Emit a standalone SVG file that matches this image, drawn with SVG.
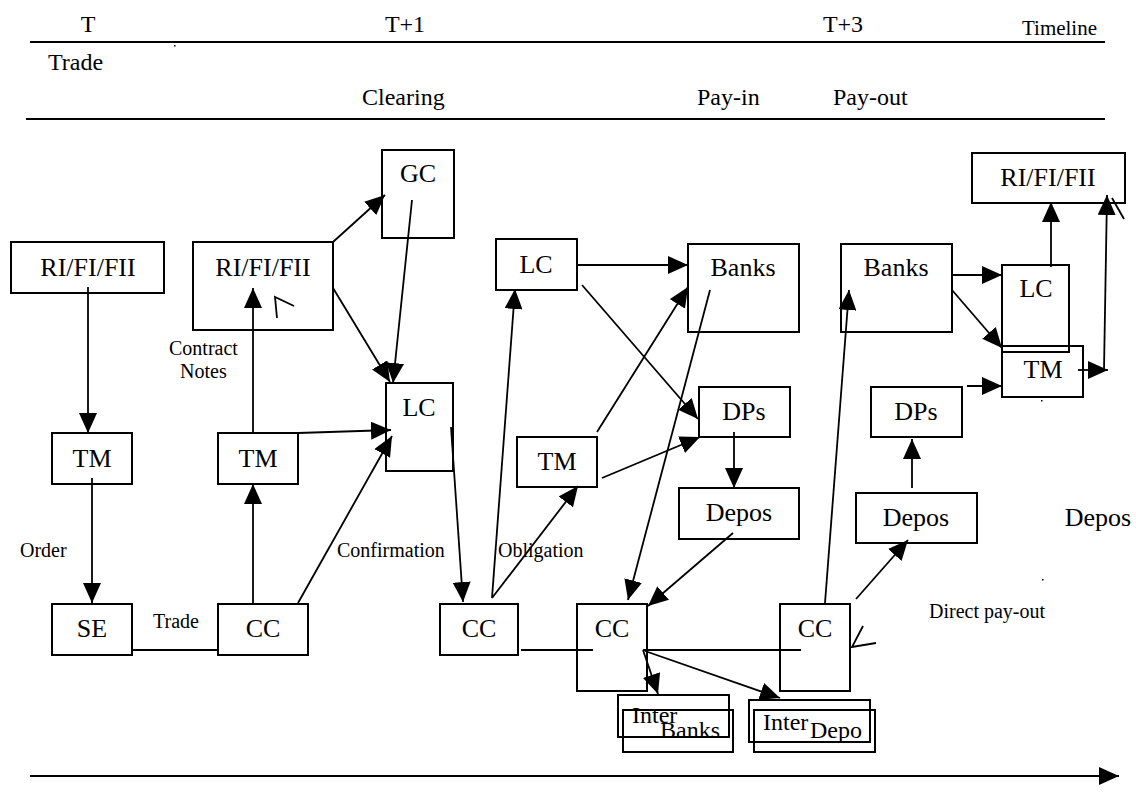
<svg xmlns="http://www.w3.org/2000/svg" width="1136" height="792" viewBox="0 0 1136 792">
<style>
.box{fill:#fff;stroke:#000;stroke-width:2}
.ob{fill:none;stroke:#000;stroke-width:2}
.nt{font-family:"Liberation Serif","Times New Roman",serif;font-size:26px;text-anchor:middle;fill:#000}
.hd{font-family:"Liberation Serif","Times New Roman",serif;font-size:24px;fill:#000}
.lb{font-family:"Liberation Serif","Times New Roman",serif;font-size:20px;fill:#000}
.it{font-family:"Liberation Serif","Times New Roman",serif;font-size:24px;fill:#000}
.c{stroke:#000;stroke-width:1.8;fill:none}
.a{stroke:#000;stroke-width:1.8;fill:none;marker-end:url(#ah)}
.hl{stroke:#000;stroke-width:2.2;fill:none}
</style>
<defs>
<marker id="ah" markerUnits="userSpaceOnUse" markerWidth="20" markerHeight="18" viewBox="0 0 20 18" refX="20" refY="9" orient="auto">
<path d="M0,0 L20,9 L0,18 z" fill="#000"/>
</marker>
</defs>
<rect width="1136" height="792" fill="#fff"/>
<g id="header">
<text class="hd" x="88" y="32" text-anchor="middle">T</text>
<text class="hd" x="405" y="32" text-anchor="middle">T+1</text>
<text class="hd" x="843" y="32" text-anchor="middle">T+3</text>
<text class="lb" x="1022" y="35" font-size="17" textLength="75" lengthAdjust="spacingAndGlyphs">Timeline</text>
<line class="hl" x1="30" y1="42" x2="1105" y2="42"/>
<rect x="174" y="45" width="1.5" height="1.5" fill="#000"/>
<text class="hd" x="48" y="70">Trade</text>
<text class="hd" x="362" y="105">Clearing</text>
<text class="hd" x="697" y="105">Pay-in</text>
<text class="hd" x="833" y="105">Pay-out</text>
<line class="hl" x1="26" y1="119" x2="1105" y2="119"/>
</g>
<g id="labels">
<text class="lb" x="169" y="355">Contract</text>
<text class="lb" x="180" y="378">Notes</text>
<text class="lb" x="20" y="557">Order</text>
<text class="lb" x="153" y="628">Trade</text>
<text class="lb" x="337" y="557">Confirmation</text>
<text class="lb" x="498" y="557">Obligation</text>
<text class="lb" x="929" y="618">Direct pay-out</text>
<text class="nt" x="1098" y="526">Depos</text>
</g>
<g id="ri1"><rect class="box" x="11" y="242" width="153" height="51"/><text class="nt" x="88" y="276">RI/FI/FII</text></g>
<g id="tm1"><rect class="box" x="52" y="433" width="80" height="51"/><text class="nt" x="92" y="467">TM</text></g>
<g id="se"><rect class="box" x="52" y="604" width="80" height="51"/><text class="nt" x="92" y="637">SE</text></g>
<g id="ri2"><rect class="box" x="193" y="242" width="140" height="88"/><text class="nt" x="263" y="276">RI/FI/FII</text></g>
<g id="tm2"><rect class="box" x="218" y="433" width="80" height="51"/><text class="nt" x="258" y="467">TM</text></g>
<g id="cc1"><rect class="box" x="218" y="604" width="90" height="51"/><text class="nt" x="263" y="637">CC</text></g>
<g id="gc"><rect class="box" x="382" y="150" width="72" height="88"/><text class="nt" x="418" y="182">GC</text></g>
<g id="lc1"><rect class="box" x="386" y="383" width="67" height="88"/><text class="nt" x="419" y="416">LC</text></g>
<g id="ccc"><rect class="box" x="440" y="604" width="78" height="51"/><text class="nt" x="479" y="637">CC</text></g>
<g id="lc2"><rect class="box" x="496" y="239" width="81" height="51"/><text class="nt" x="536" y="273">LC</text></g>
<g id="tm3"><rect class="box" x="517" y="437" width="80" height="50"/><text class="nt" x="557" y="470">TM</text></g>
<g id="banks1"><rect class="box" x="688" y="244" width="111" height="88"/><text class="nt" x="743" y="276">Banks</text></g>
<g id="dps1"><rect class="box" x="699" y="387" width="91" height="50"/><text class="nt" x="744" y="420">DPs</text></g>
<g id="depos1"><rect class="box" x="679" y="488" width="120" height="51"/><text class="nt" x="739" y="521">Depos</text></g>
<g id="cc2"><rect class="box" x="577" y="604" width="70" height="87"/><text class="nt" x="612" y="637">CC</text></g>
<g id="cc3"><rect class="box" x="780" y="604" width="70" height="87"/><text class="nt" x="815" y="637">CC</text></g>
<g id="interbanks"><rect class="ob" x="618" y="695" width="111" height="42"/><rect class="ob" x="623" y="710" width="110" height="42"/><text class="it" x="632" y="723">Inter</text><text class="it" x="660" y="738">Banks</text></g>
<g id="interdepo"><rect class="ob" x="749" y="700" width="121" height="42"/><rect class="ob" x="754" y="710" width="121" height="42"/><text class="it" x="763" y="730">Inter</text><text class="it" x="810" y="738">Depo</text></g>
<g id="banks2"><rect class="box" x="841" y="244" width="111" height="88"/><text class="nt" x="896" y="276">Banks</text></g>
<g id="dps2"><rect class="box" x="871" y="387" width="91" height="50"/><text class="nt" x="916" y="420">DPs</text></g>
<g id="depos2"><rect class="box" x="856" y="493" width="121" height="50"/><text class="nt" x="916" y="526">Depos</text></g>
<g id="ri3"><rect class="box" x="972" y="153" width="153" height="50"/><text class="nt" x="1048" y="186">RI/FI/FII</text></g>
<g id="lc3"><rect class="box" x="1002" y="265" width="67" height="87"/><text class="nt" x="1036" y="297">LC</text></g>
<g id="tm4"><rect class="ob" x="1002" y="346" width="81" height="51"/><text class="nt" x="1043" y="378">TM</text></g>
<g id="connectors">
<line class="a" x1="88" y1="287" x2="88" y2="433"/>
<line class="a" x1="92" y1="478" x2="92" y2="603"/>
<line class="c" x1="132" y1="650" x2="218" y2="650"/>
<line class="a" x1="253" y1="603" x2="253" y2="484"/>
<line class="a" x1="253" y1="433" x2="253" y2="288"/>
<line class="a" x1="333" y1="242" x2="385" y2="195"/>
<line class="a" x1="333" y1="288" x2="390" y2="382"/>
<line class="a" x1="412" y1="200" x2="393" y2="383"/>
<line class="a" x1="298" y1="433" x2="391" y2="430"/>
<line class="a" x1="298" y1="603" x2="392" y2="436"/>
<line class="a" x1="451" y1="427" x2="463" y2="602"/>
<line class="c" x1="521" y1="650" x2="593" y2="650"/>
<line class="a" x1="492" y1="598" x2="515" y2="289"/>
<line class="a" x1="492" y1="598" x2="578" y2="486"/>
<line class="a" x1="577" y1="265" x2="688" y2="265"/>
<line class="a" x1="582" y1="285" x2="698" y2="419"/>
<line class="a" x1="597" y1="432" x2="688" y2="287"/>
<line class="a" x1="602" y1="478" x2="700" y2="437"/>
<line class="a" x1="710" y1="290" x2="628" y2="600"/>
<line class="a" x1="734" y1="432" x2="734" y2="488"/>
<line class="a" x1="733" y1="533" x2="648" y2="606"/>
<line class="c" x1="643" y1="650" x2="801" y2="650"/>
<line class="a" x1="643" y1="650" x2="658" y2="694"/>
<line class="a" x1="645" y1="651" x2="780" y2="698"/>
<line class="a" x1="825" y1="603" x2="849" y2="290"/>
<line class="a" x1="856" y1="599" x2="908" y2="540"/>
<line class="a" x1="912" y1="488" x2="912" y2="439"/>
<line class="a" x1="967" y1="386" x2="1002" y2="386"/>
<line class="a" x1="952" y1="275" x2="1002" y2="275"/>
<line class="a" x1="952" y1="290" x2="1002" y2="348"/>
<line class="a" x1="1051" y1="267" x2="1051" y2="202"/>
<line class="a" x1="1078" y1="370" x2="1108" y2="370"/>
<line class="a" x1="1104" y1="370" x2="1107" y2="195"/>
<line class="c" x1="1112" y1="198" x2="1124" y2="219"/>
<polyline class="c" points="277,318 275,297 294,306"/>
<polyline class="c" points="863,626 852,647 876,643"/>
<line class="a" x1="30" y1="776" x2="1119" y2="776"/>
<rect x="1041" y="400" width="1.5" height="1.5" fill="#000"/>
<rect x="1042" y="579" width="1.5" height="1.5" fill="#000"/>
</g>
</svg>
